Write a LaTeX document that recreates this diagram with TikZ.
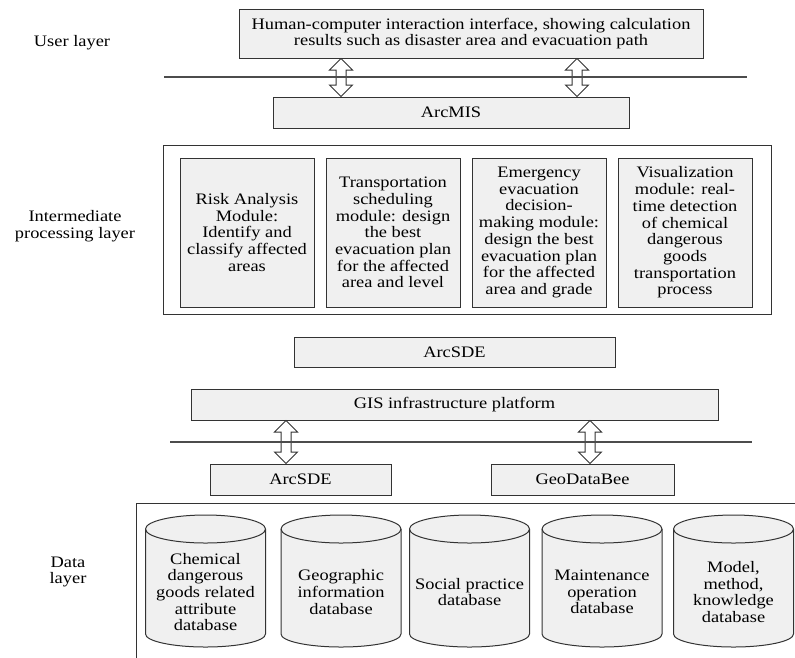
\documentclass[tikz,border=0pt]{standalone}
\usepackage{fontspec}
\setmainfont{Liberation Serif}[FakeStretch=1.15]
\begin{document}
\begin{tikzpicture}[x=1pt,y=-1pt,
    every node/.style={font=\fontsize{16}{16.7}\selectfont},
    box/.style={draw=black!80,fill=black!6,line width=1pt,inner sep=0pt,align=center},
    frame/.style={draw=black!80,line width=1pt},
    sepline/.style={draw=black!70,line width=1.1pt}]
  \useasboundingbox (0,0) rectangle (795,657);
  \clip (0,0) rectangle (795,657);

  % user layer
  \node (ulabel) at (72,43) {User layer};
  \node (top) [box,minimum width=464,minimum height=49] at (471,33.5)
    {Human-computer interaction interface, showing calculation\\results such as disaster area and evacuation path};
  \node (arcmis) [box,minimum width=356,minimum height=31] at (451,112.5) {ArcMIS};

  % intermediate layer
  \node (ilabel) [align=center] at (75,226) {Intermediate\\processing layer};
  \node (midframe) [frame,minimum width=608,minimum height=169] at (467,229.5) {};
  \foreach \i/\mx/\txt in {1/247/{Risk Analysis\\Module:\\Identify and\\classify affected\\areas},
      2/393/{Transportation\\scheduling\\module: design\\the best\\evacuation plan\\for the affected\\area and level},
      3/539/{Emergency\\evacuation\\decision-\\making module:\\design the best\\evacuation plan\\for the affected\\area and grade},
      4/685/{Visualization\\module: real-\\time detection\\of chemical\\dangerous\\goods\\transportation\\process}}
    \node (mod\i) [box,minimum width=134,minimum height=149] at (\mx,232.5) {\txt};

  % data layer
  \node (sdemid) [box,minimum width=321,minimum height=30] at (454.5,352) {ArcSDE};
  \node (gis) [box,minimum width=527,minimum height=31] at (454.5,404.5) {GIS infrastructure platform};
  \node (sdelow) [box,minimum width=181,minimum height=31] at (300.5,479.5) {ArcSDE};
  \node (geodb) [box,minimum width=183,minimum height=31] at (582.5,479.5) {GeoDataBee};
  \node (dlabel) [align=center] at (68,572) {Data\\layer};
  \node (dataframe) [frame,anchor=north west,minimum width=700,minimum height=220] at (136,503) {};
  \foreach \i/\cx/\txt in {1/205.5/{Chemical\\dangerous\\goods related\\attribute\\database},
      2/341/{Geographic\\information\\database},
      3/469.5/{Social practice\\database},
      4/602/{Maintenance\\operation\\database},
      5/733.5/{Model,\\method,\\knowledge\\database}}
  {
    \draw[frame,fill=black!6] (\cx-60,529) -- (\cx-60,634)
      arc[start angle=180,end angle=360,x radius=60pt,y radius=13pt] -- (\cx+60,529)
      arc[start angle=0,end angle=180,x radius=60pt,y radius=14pt] -- cycle;
    \draw[frame] (\cx-60,529) arc[start angle=180,end angle=360,x radius=60pt,y radius=14pt];
    \node (db\i) [align=center] at (\cx,592) {\txt};
  }

  % double arrows between layers
  \foreach \ax/\ua/\da in {341/top/arcmis,577/top/arcmis,286/gis/sdelow,590/gis/geodb}
  {
    \path (\ax,0 |- \ua.south) coordinate (u) (\ax,0 |- \da.north) coordinate (d);
    \draw[frame] (u) -- ([xshift=11.5pt,yshift=-11.5pt]u) -- ([xshift=5pt,yshift=-11.5pt]u)
      -- ([xshift=5pt,yshift=11.5pt]d) -- ([xshift=11.5pt,yshift=11.5pt]d) -- (d)
      -- ([xshift=-11.5pt,yshift=11.5pt]d) -- ([xshift=-5pt,yshift=11.5pt]d)
      -- ([xshift=-5pt,yshift=-11.5pt]u) -- ([xshift=-11.5pt,yshift=-11.5pt]u) -- cycle;
  }
  \draw[sepline] (164,77) -- (747,77);
  \draw[sepline] (170,442) -- (752,442);
\end{tikzpicture}
\end{document}
